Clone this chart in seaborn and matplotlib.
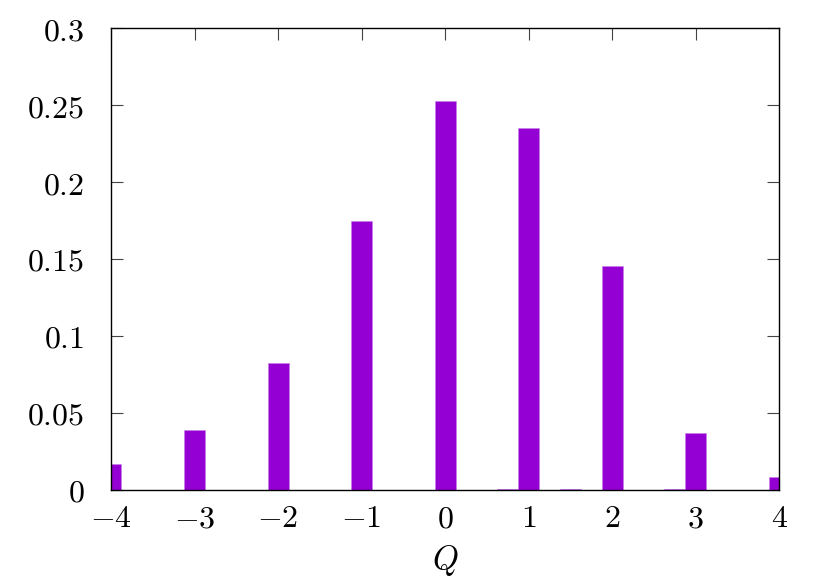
import pandas as pd
import matplotlib
matplotlib.use('Agg')
import matplotlib.pyplot as plt
import seaborn as sns
from matplotlib.ticker import FuncFormatter

# topological charge histogram (bins of width 0.25)
q_values = [-4, -3, -2, -1, 0, 0.75, 1, 1.5, 2, 2.75, 3, 4]
prob = [0.0166, 0.0386, 0.0826, 0.1744, 0.2527, 0.0006, 0.2354, 0.0006, 0.1452, 0.0006, 0.0369, 0.0083]

x_ticks = [-4, -3, -2, -1, 0, 1, 2, 3, 4]
y_ticks = [0, 0.05, 0.1, 0.15, 0.2, 0.25, 0.3]

df = pd.DataFrame({'Q': q_values, 'P': prob})

sns.set_theme(style="white")
plt.rcParams['font.family'] = ['serif']
plt.rcParams['mathtext.fontset'] = 'cm'
plt.rcParams['text.color'] = 'black'

fig = plt.figure(figsize=(8.31, 5.82), dpi=100)
ax = fig.add_axes([0.1336, 0.1589, 0.9378 - 0.1336, 0.9514 - 0.1589])

sns.histplot(data=df, x='Q', weights='P', binwidth=0.25, binrange=(-4.125, 4.125),
             color='#9400d3', alpha=1.0, edgecolor='#c77ee8', linewidth=0.4, ax=ax)

ax.set_xlim(-4, 4)
ax.set_ylim(0, 0.3)
ax.set_xticks(x_ticks)
ax.set_yticks(y_ticks)
ax.xaxis.set_major_formatter(FuncFormatter(lambda v, p: f"${v:g}$"))
ax.yaxis.set_major_formatter(FuncFormatter(lambda v, p: f"${v:g}$"))
ax.set_axisbelow(True)

ax.tick_params(axis='both', direction='in', length=8.8, width=0.8, color='#444444',
               labelsize=23, labelcolor='black', top=True, right=True, bottom=True, left=True)
ax.tick_params(axis='y', pad=19)
ax.tick_params(axis='x', pad=10)

for s in ax.spines.values():
    s.set_color('black')
    s.set_linewidth(1.0)

ax.set_ylabel('')
ax.set_xlabel(r'$Q$', fontsize=24, labelpad=6, color='black')

fig.savefig('out.png', dpi=100)
